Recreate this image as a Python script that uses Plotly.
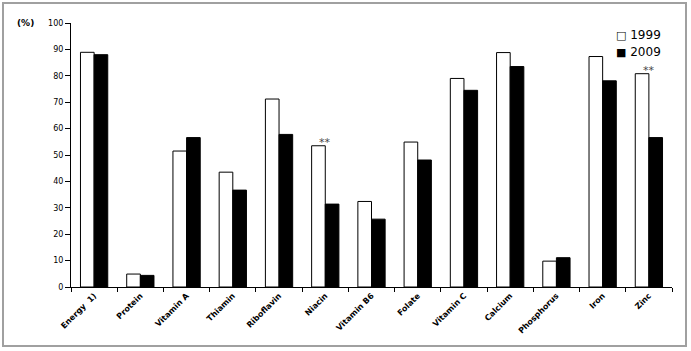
import plotly.graph_objects as go

categories = ["Energy  1)", "Protein", "Vitamin A", "Thiamin", "Riboflavin", "Niacin",
              "Vitamin B6", "Folate", "Vitamin C", "Calcium", "Phosphorus", "Iron", "Zinc"]
v1999 = [88.9, 4.9, 51.5, 43.5, 71.2, 53.5, 32.4, 54.9, 79.0, 88.8, 9.8, 87.3, 80.8]
v2009 = [88.0, 4.4, 56.6, 36.7, 57.8, 31.4, 25.7, 48.1, 74.5, 83.5, 11.1, 78.1, 56.6]
sig_labels = ["", "", "", "", "", "**", "", "", "", "", "", "", "**"]
series_names = ["1999", "2009"]
legend_glyphs = ["□", "■"]
y_ticks = list(range(0, 101, 10))

W, H = 691, 351
L, R, T, B = 71, 19, 23, 64
pw, ph = W - L - R, H - T - B

def px(x):
    return (x - L) / pw

def py(y):
    return (H - B - y) / ph

fig = go.Figure()
fig.add_trace(go.Bar(x=categories, y=v1999, name=series_names[0],
                     marker=dict(color="white", line=dict(color="black", width=1))))
fig.add_trace(go.Bar(x=categories, y=v2009, name=series_names[1],
                     marker=dict(color="black", line=dict(color="black", width=1))))

for c, v, s in zip(categories, v1999, sig_labels):
    if s:
        fig.add_annotation(x=c, y=v, text=s, showarrow=False, xshift=0, yshift=-5,
                           font=dict(size=11, color="#444", family="DejaVu Sans"),
                           yanchor="bottom")

fig.add_annotation(x=px(36), y=py(23), xref="paper", yref="paper", text="<b>(%)</b>",
                   showarrow=False, xanchor="right", yanchor="middle",
                   font=dict(size=9, color="black", family="DejaVu Sans"))

for i, (g, n) in enumerate(zip(legend_glyphs, series_names)):
    fig.add_annotation(x=px(614), y=py(35 + 17 * i), xref="paper", yref="paper",
                       text='<span style="font-size:11px">' + g + '</span> ' + n,
                       showarrow=False, xanchor="left", yanchor="middle",
                       font=dict(size=12, color="black", family="DejaVu Sans"))

fig.add_shape(type="rect", xref="paper", yref="paper",
              x0=px(3), x1=px(686), y0=py(346), y1=py(3),
              line=dict(color="#a0a0a0", width=2), fillcolor="rgba(0,0,0,0)", layer="below")

fig.update_layout(
    width=W, height=H,
    margin=dict(l=L, r=R, t=T, b=B),
    paper_bgcolor="white", plot_bgcolor="white",
    barmode="group", bargap=0.41, bargroupgap=0,
    showlegend=False,
    font=dict(family="DejaVu Sans", color="black"),
)
fig.update_xaxes(showline=True, linecolor="black", linewidth=1, showgrid=False,
                 ticks="outside", ticklen=4, tickcolor="black", tickson="boundaries",
                 tickangle=-45, tickfont=dict(size=8, family="DejaVu Sans", color="black"),
                 tickprefix="<b>", ticksuffix="</b>")
fig.update_yaxes(range=[0, 100], tickvals=y_ticks, showline=True, linecolor="black",
                 linewidth=1, showgrid=False, ticks="outside", ticklen=5, tickcolor="black",
                 tickfont=dict(size=8, family="DejaVu Sans", color="black"),
                 tickprefix="<b>", ticksuffix="</b>", zeroline=False)

fig.write_html("out.html")
